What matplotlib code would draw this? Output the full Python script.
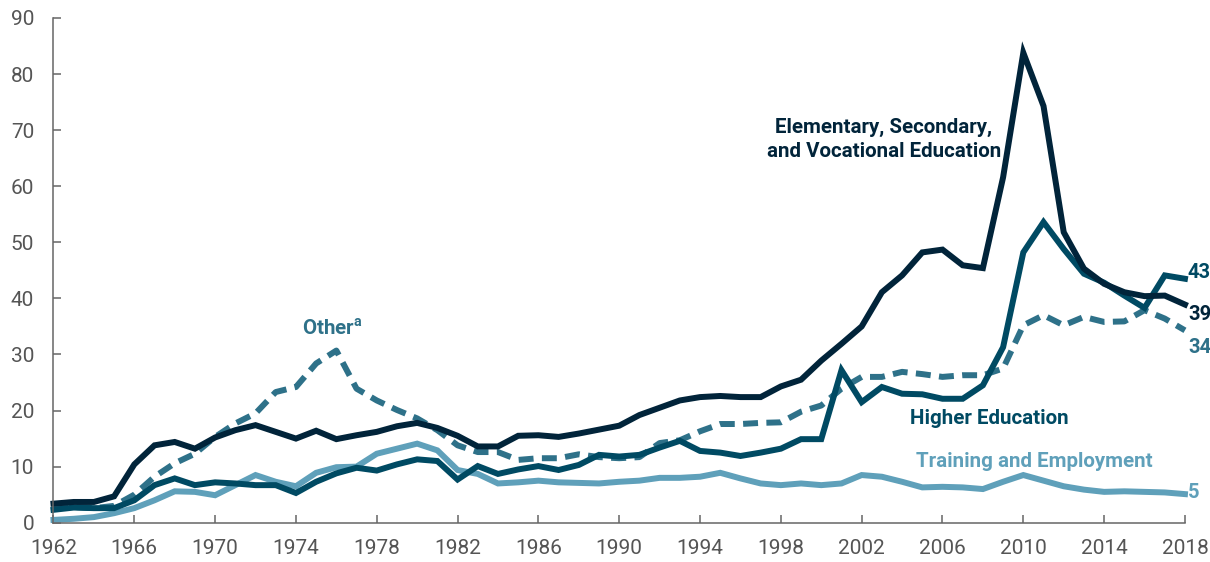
import numpy as np
import matplotlib.pyplot as plt

years = np.arange(1962, 2019)

elementary = [3.4, 3.7, 3.7, 4.7, 10.4, 13.8, 14.4, 13.2, 15.2, 16.5,
              17.4, 16.2, 15.0, 16.4, 14.9, 15.6, 16.2, 17.2, 17.8, 16.9,
              15.5, 13.6, 13.6, 15.5, 15.6, 15.3, 15.9, 16.6, 17.3, 19.2,
              20.5, 21.8, 22.4, 22.6, 22.4, 22.4, 24.3, 25.5, 28.9, 31.9,
              35.0, 41.1, 44.1, 48.2, 48.7, 45.9, 45.4, 61.6, 83.8, 74.3,
              51.8, 45.3, 42.6, 41.1, 40.4, 40.5, 38.9]
higher = [2.3, 2.7, 2.6, 2.6, 4.0, 6.7, 7.9, 6.7, 7.2, 7.0,
          6.7, 6.7, 5.3, 7.3, 8.8, 9.8, 9.3, 10.4, 11.3, 11.0,
          7.7, 10.1, 8.7, 9.5, 10.1, 9.4, 10.3, 12.1, 11.8, 12.1,
          13.4, 14.6, 12.8, 12.5, 11.9, 12.5, 13.2, 14.9, 14.9, 27.2,
          21.5, 24.2, 23.0, 22.9, 22.1, 22.1, 24.5, 31.3, 48.2, 53.6,
          48.8, 44.4, 42.8, 40.5, 38.3, 44.1, 43.5]
other = [2.5, 2.8, 2.6, 3.0, 5.0, 8.2, 10.6, 12.3, 15.3, 17.7,
         19.5, 23.3, 24.2, 28.4, 30.7, 23.9, 21.8, 20.1, 18.6, 16.5,
         13.8, 12.6, 12.6, 11.2, 11.5, 11.5, 12.2, 11.7, 11.5, 11.7,
         14.2, 14.7, 16.3, 17.6, 17.6, 17.8, 17.9, 19.8, 20.9, 23.9,
         26.0, 26.0, 26.9, 26.5, 26.0, 26.3, 26.3, 27.5, 35.2, 37.0,
         35.2, 36.7, 35.8, 35.9, 37.9, 36.4, 34.3]
training = [0.5, 0.7, 1.0, 1.7, 2.6, 4.0, 5.6, 5.5, 4.9, 6.7,
            8.5, 7.3, 6.5, 8.9, 9.9, 10.0, 12.3, 13.2, 14.1, 12.9,
            9.4, 8.7, 7.0, 7.2, 7.5, 7.2, 7.1, 7.0, 7.3, 7.5,
            8.0, 8.0, 8.2, 8.9, 7.9, 7.0, 6.7, 7.0, 6.7, 7.0,
            8.5, 8.2, 7.3, 6.3, 6.4, 6.3, 6.0, 7.3, 8.5, 7.5,
            6.5, 5.9, 5.5, 5.6, 5.5, 5.4, 5.1]

end_labels = ['43', '39', '34', '5']

c_elem = '#01243a'
c_high = '#004a63'
c_other = '#2e7189'
c_train = '#5fa0ba'

plt.rcParams['font.family'] = ['Roboto', 'DejaVu Sans']

fig = plt.figure(figsize=(12.1, 5.62), dpi=100)
ax = fig.add_axes([0.0442, 0.0699, 0.9351, 0.8981])

lw = 4.3
ax.plot(years, training, color=c_train, lw=lw, solid_joinstyle='miter', clip_on=False)
ax.plot(years, other, color=c_other, lw=lw, dashes=(2.5, 1.4), clip_on=False)
ax.plot(years, higher, color=c_high, lw=lw, solid_joinstyle='miter', clip_on=False)
ax.plot(years, elementary, color=c_elem, lw=lw, solid_joinstyle='miter', clip_on=False)

ax.set_xlim(1962, 2018)
ax.set_ylim(0, 90)
ax.set_xticks(np.arange(1962, 2019, 4))
ax.set_yticks(np.arange(0, 91, 10))

for s in ['top', 'right']:
    ax.spines[s].set_visible(False)
for s in ['left', 'bottom']:
    ax.spines[s].set_color('#666666')
    ax.spines[s].set_linewidth(1.1)
ax.tick_params(direction='in', length=6, width=1.1, color='#666666',
               labelsize=15, labelcolor='#555555')
ax.tick_params(axis='y', pad=14)
ax.tick_params(axis='x', pad=12)

bold = dict(fontsize=14.8, fontweight='bold')
ax.text(2003.1, 68.3, 'Elementary, Secondary,\nand Vocational Education',
        color=c_elem, ha='center', va='center', linespacing=1.35, **bold)
ax.text(1975.8, 34.6, 'Other$^{\\mathregular{a}}$', color=c_other,
        ha='center', va='center', **bold)
ax.text(2008.3, 18.6, 'Higher Education', color=c_high, ha='center', va='center', **bold)
ax.text(2010.55, 11.0, 'Training and Employment', color=c_train,
        ha='center', va='center', **bold)

end_y = [44.7, 37.1, 31.2, 5.3]
end_c = [c_high, c_elem, c_other, c_train]
for lab, yy, cc in zip(end_labels, end_y, end_c):
    ax.text(2018.15, yy, lab, color=cc, ha='left', va='center',
            fontsize=14.5, fontweight='bold')

fig.savefig('out.png', dpi=100)
